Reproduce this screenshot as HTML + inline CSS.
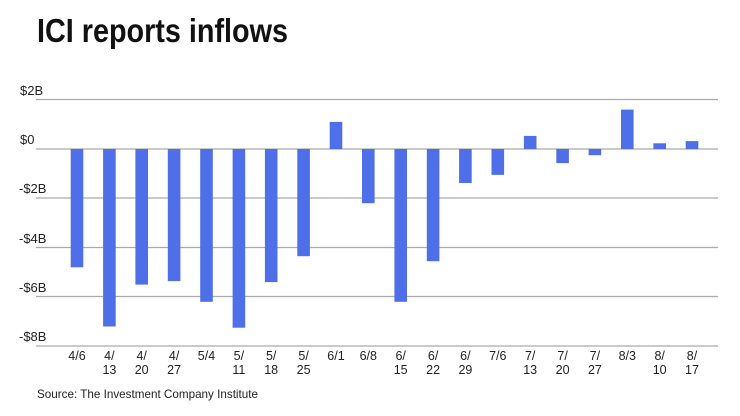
<!DOCTYPE html>
<html><head><meta charset="utf-8"><style>
body{margin:0;background:#fff;}
svg{display:block;font-family:"Liberation Sans",sans-serif;}
</style></head><body>
<svg width="740" height="416" viewBox="0 0 740 416">
<text x="37" y="42" font-size="33" font-weight="bold" fill="#111" textLength="251" lengthAdjust="spacingAndGlyphs">ICI reports inflows</text>
<g stroke="#aaa" stroke-width="1.3">
<line x1="36" x2="718" y1="99.5" y2="99.5"/>
<line x1="36" x2="718" y1="149" y2="149"/>
<line x1="36" x2="718" y1="198" y2="198"/>
<line x1="36" x2="718" y1="247.5" y2="247.5"/>
<line x1="36" x2="718" y1="296.5" y2="296.5"/>
<line x1="36" x2="718" y1="346" y2="346"/>
</g>
<g font-size="13" fill="#222">
<text x="20" y="95">$2B</text>
<text x="20" y="144">$0</text>
<text x="19" y="193">-$2B</text>
<text x="19" y="243">-$4B</text>
<text x="19" y="292">-$6B</text>
<text x="19" y="341">-$8B</text>
</g>
<g fill="#4f6fe8">
<rect x="70.7" y="149" width="12.6" height="118.3"/>
<rect x="103.1" y="149" width="12.6" height="177.5"/>
<rect x="135.4" y="149" width="12.6" height="135.6"/>
<rect x="167.8" y="149" width="12.6" height="132.1"/>
<rect x="200.2" y="149" width="12.6" height="152.8"/>
<rect x="232.6" y="149" width="12.6" height="178.7"/>
<rect x="264.9" y="149" width="12.6" height="133.1"/>
<rect x="297.3" y="149" width="12.6" height="107.2"/>
<rect x="329.7" y="121.9" width="12.6" height="27.1"/>
<rect x="362.0" y="149" width="12.6" height="54.2"/>
<rect x="394.4" y="149" width="12.6" height="152.8"/>
<rect x="426.8" y="149" width="12.6" height="112.2"/>
<rect x="459.1" y="149" width="12.6" height="34.0"/>
<rect x="491.5" y="149" width="12.6" height="25.9"/>
<rect x="523.9" y="135.9" width="12.6" height="13.1"/>
<rect x="556.3" y="149" width="12.6" height="14.1"/>
<rect x="588.6" y="149" width="12.6" height="6.2"/>
<rect x="621.0" y="109.6" width="12.6" height="39.4"/>
<rect x="653.4" y="143.3" width="12.6" height="5.7"/>
<rect x="685.7" y="141.1" width="12.6" height="7.9"/>
</g>
<g font-size="12.5" fill="#222" text-anchor="middle">
<text x="77" y="360">4/6</text>
<text x="109.4" y="360">4/</text><text x="109.4" y="374">13</text>
<text x="141.7" y="360">4/</text><text x="141.7" y="374">20</text>
<text x="174.1" y="360">4/</text><text x="174.1" y="374">27</text>
<text x="206.5" y="360">5/4</text>
<text x="238.9" y="360">5/</text><text x="238.9" y="374">11</text>
<text x="271.2" y="360">5/</text><text x="271.2" y="374">18</text>
<text x="303.6" y="360">5/</text><text x="303.6" y="374">25</text>
<text x="336" y="360">6/1</text>
<text x="368.3" y="360">6/8</text>
<text x="400.7" y="360">6/</text><text x="400.7" y="374">15</text>
<text x="433.1" y="360">6/</text><text x="433.1" y="374">22</text>
<text x="465.4" y="360">6/</text><text x="465.4" y="374">29</text>
<text x="497.8" y="360">7/6</text>
<text x="530.2" y="360">7/</text><text x="530.2" y="374">13</text>
<text x="562.6" y="360">7/</text><text x="562.6" y="374">20</text>
<text x="594.9" y="360">7/</text><text x="594.9" y="374">27</text>
<text x="627.3" y="360">8/3</text>
<text x="659.7" y="360">8/</text><text x="659.7" y="374">10</text>
<text x="692" y="360">8/</text><text x="692" y="374">17</text>
</g>
<text x="37" y="398" font-size="12" fill="#222" textLength="221" lengthAdjust="spacingAndGlyphs">Source: The Investment Company Institute</text>
</svg>
</body></html>
